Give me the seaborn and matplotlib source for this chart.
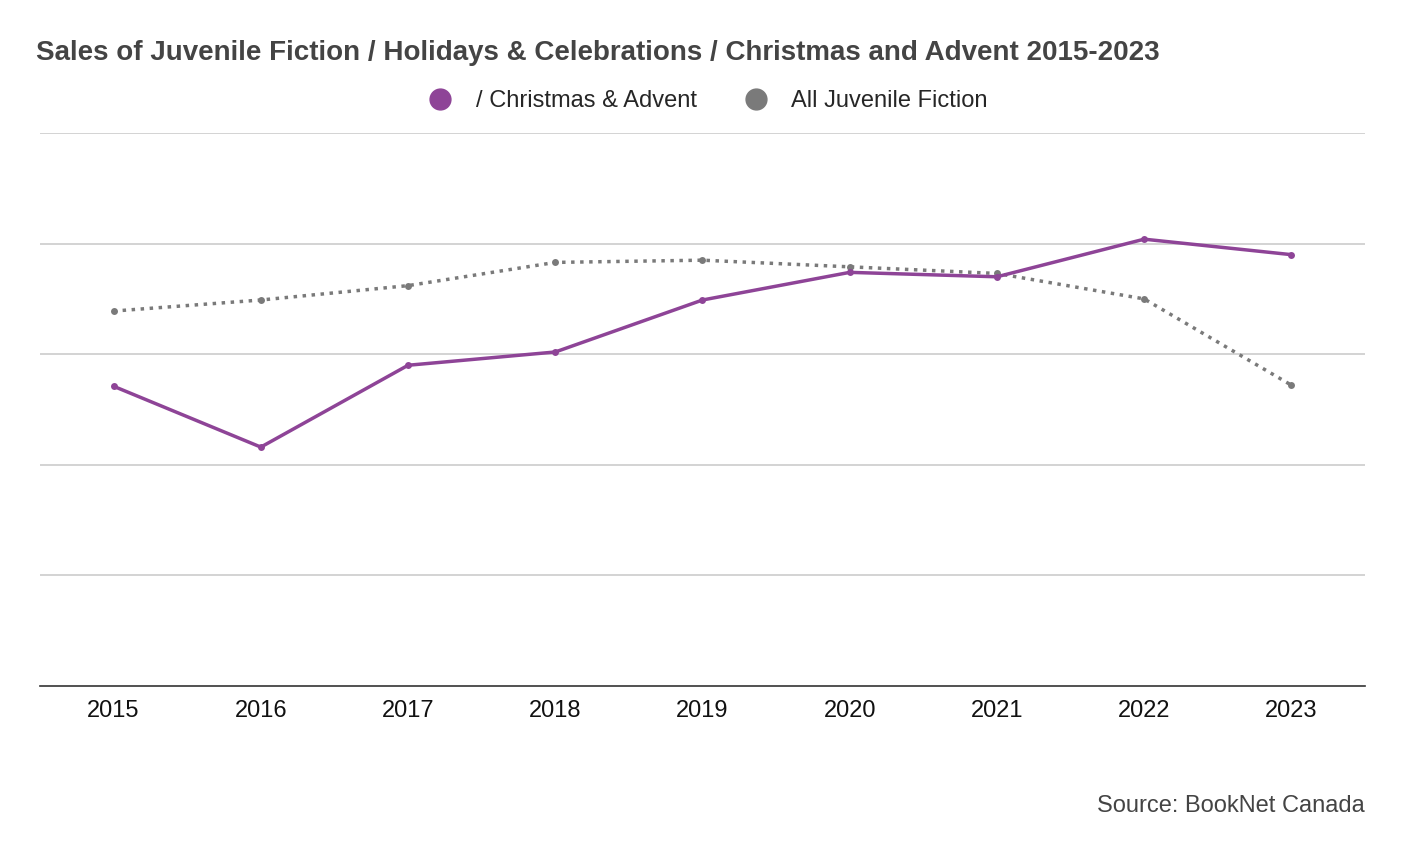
import matplotlib
matplotlib.use("Agg")
import matplotlib.pyplot as plt
import seaborn as sns
import pandas as pd
from matplotlib.lines import Line2D

years = ["2015","2016","2017","2018","2019","2020","2021","2022","2023"]
christmas = [2.71, 2.16, 2.90, 3.02, 3.49, 3.74, 3.70, 4.04, 3.90]
juvenile = [3.39, 3.49, 3.62, 3.83, 3.85, 3.79, 3.73, 3.50, 2.72]

sns.set_theme(style="white")
plt.rcParams['font.family'] = ['Liberation Sans', 'DejaVu Sans']

purple = "#8e4497"
gray = "#7a7a7a"
fig = plt.figure(figsize=(14.04, 8.64), dpi=100)
ax = fig.add_axes([40/1404, (864-686)/864, 1325/1404, 553/864])

x = list(range(len(years)))
df = pd.DataFrame({"x": x, "c": christmas, "j": juvenile})
sns.lineplot(data=df, x="x", y="j", ax=ax, color=gray, lw=2.5, linestyle=(0, (1, 1.6)),
             marker="o", markersize=5, markeredgewidth=0)
sns.lineplot(data=df, x="x", y="c", ax=ax, color=purple, lw=2.5,
             marker="o", markersize=5, markeredgewidth=0)

ax.set_xlim(-0.5, 8.5)
ax.set_ylim(0, 5)
ax.set_yticks([1, 2, 3, 4, 5])
ax.yaxis.grid(True, color="#cccccc", lw=1.2)
ax.set_yticklabels([])
ax.tick_params(axis="y", length=0)
ax.set_xticks(x)
ax.set_xticklabels(years, fontsize=17, color="#111111")
ax.tick_params(axis="x", length=0, pad=10)
ax.set_xlabel(""); ax.set_ylabel("")
for s in ["top", "right", "left"]:
    ax.spines[s].set_visible(False)
ax.spines["bottom"].set_color("#333333")
ax.spines["bottom"].set_linewidth(1.2)

fig.text(36/1404, 1-53/864, "Sales of Juvenile Fiction / Holidays & Celebrations / Christmas and Advent 2015-2023",
         fontsize=20, fontweight="bold", color="#444444", va="center")
handles = [Line2D([], [], marker="o", color=purple, lw=0, markersize=15),
           Line2D([], [], marker="o", color=gray, lw=0, markersize=15)]
fig.legend(handles, ["/ Christmas & Advent", "All Juvenile Fiction"], loc="center",
           bbox_to_anchor=(702/1404, 1-101/864), ncol=2, frameon=False, fontsize=17,
           handletextpad=0.5, columnspacing=1.5)
fig.text(1365/1404, 1-806/864, "Source: BookNet Canada", ha="right", va="center",
         fontsize=17, color="#444444")
fig.savefig("out.png", dpi=100)
